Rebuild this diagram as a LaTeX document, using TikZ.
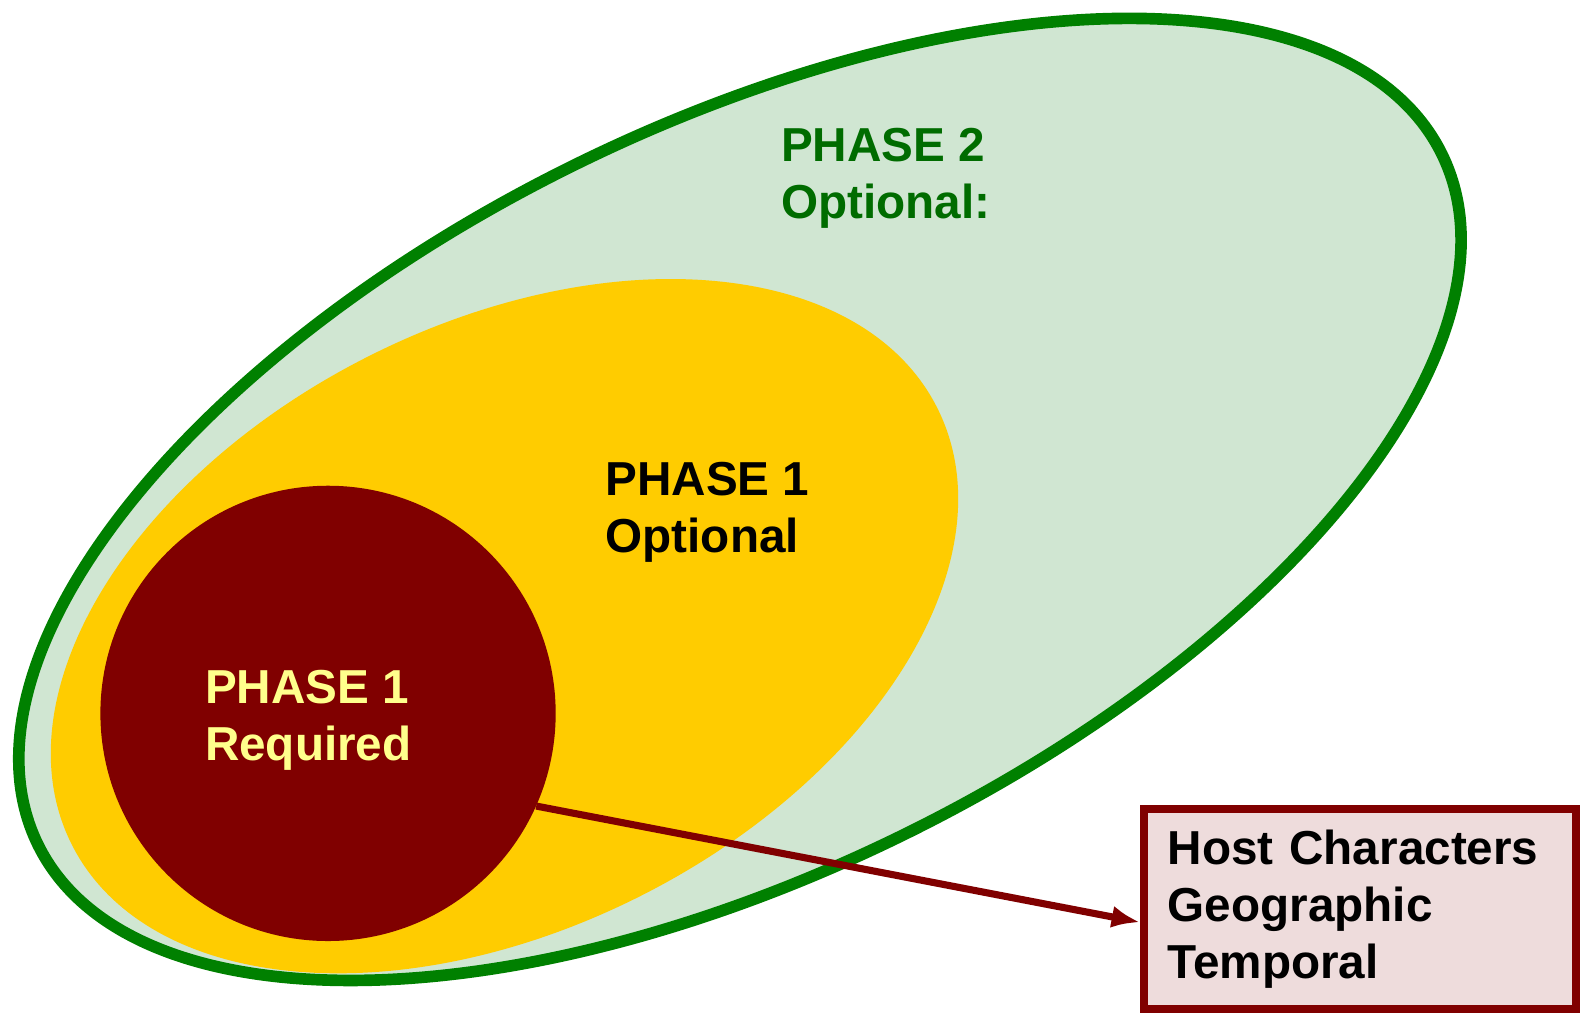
\documentclass[tikz,border=0pt]{standalone}
\usepackage{fontspec}
\setmainfont{Liberation Sans}
\usetikzlibrary{shapes.geometric,arrows.meta}

\definecolor{phasegreen}{RGB}{0,128,0}
\definecolor{phasegreentext}{RGB}{0,108,0}
\definecolor{phasegreenfill}{RGB}{208,230,210}
\definecolor{phaseyellow}{RGB}{255,204,0}
\definecolor{phasered}{RGB}{128,0,0}
\definecolor{phasepaleyellow}{RGB}{255,255,140}
\definecolor{hostfill}{RGB}{238,220,220}

\tikzset{
  phaselabel/.style={anchor=north west,inner sep=0pt,align=left,
    font=\fontsize{47}{56}\selectfont\bfseries},
  phaseblob/.style={ellipse,inner sep=0pt},
}

\begin{document}
\begin{tikzpicture}[x=1pt,y=-1pt]
      \useasboundingbox (0,0) rectangle (1568,999);
      % Draw phase 2 ellipse
      \node (phasetwo) [phaseblob,draw=phasegreen,line width=11.5pt,fill=phasegreenfill,
        minimum width=1543,minimum height=736,rotate=26.2] at (729.7,492.5) {};
      % Draw phase 1 optional ellipse
      \node (phaseoneopt) [phaseblob,fill=phaseyellow,
        minimum width=956,minimum height=596,rotate=26.8] at (497.5,617.5) {};
      % Draw phase 1 required circle
      \node (phaseonereq) [circle,inner sep=0pt,fill=phasered,minimum size=449]
        at (323.5,703.5) {};
      % Draw the labels
      \node (phasetwolabel) [phaselabel,text=phasegreentext] at (770,126) {PHASE 2\\Optional:};
      \node (phaseoptlabel) [phaselabel,text=black] at (597,456) {PHASE 1\\Optional};
      \node (phasereqlabel) [phaselabel,text=phasepaleyellow] at (202,661) {PHASE 1\\Required};
      % Draw the box
      \node (hostinfo) [draw=phasered,line width=7.5pt,fill=hostfill,inner sep=0pt,
        minimum width=426,minimum height=197,text width=379,align=left,
        font=\fontsize{47}{56}\selectfont\bfseries] at (1341,896.5)
        {Host Characters\\Geographic\\Temporal};
      % Draw the arrow
      \draw[-{Latex[length=28pt,width=22pt]},phasered,line width=7pt]
        (phaseonereq.-24.6) -- ([yshift=-13pt]hostinfo.west);
    \end{tikzpicture}
\end{document}
